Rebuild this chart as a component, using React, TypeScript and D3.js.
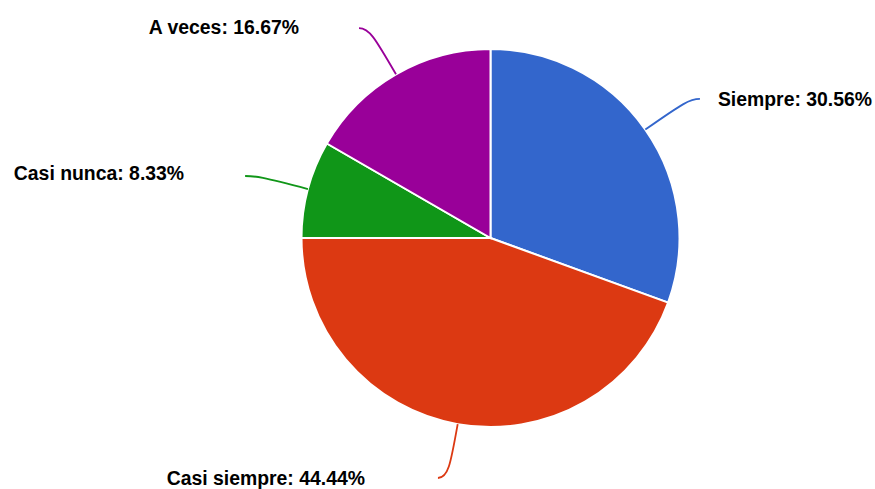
import React from "react";
import * as d3 from "d3";

const categories = ["Siempre", "Casi siempre", "Casi nunca", "A veces"];
const values = [11, 16, 3, 6];
const percentLabels = ["30.56%", "44.44%", "8.33%", "16.67%"];
const colors = ["#3366cc", "#dc3912", "#109618", "#990099"];

// layout (not data)
const W = 875;
const H = 489;
const CX = 490.5;
const CY = 238;
const R = 189;
const LEADER_R = [252, 245, 253, 247];
const endOffset: [number, number][] = [
  [3, 5.5],
  [-10, -1.3],
  [-1, 3.5],
  [-8, 4],
];
const labelGap = [18, 73, 61, 60];
const labelDy = [0, 0, -3, -1];

export default function App() {
  const pie = d3.pie<number>().sort(null).value((d) => d);
  const arcs = pie(values);
  const arc = d3.arc<d3.PieArcDatum<number>>().innerRadius(0).outerRadius(R);
  const polar = (a: number, r: number): [number, number] => [
    CX + r * Math.sin(a),
    CY - r * Math.cos(a),
  ];

  return (
    <svg
      width={W}
      height={H}
      style={{ position: "absolute", left: 0, top: 0, background: "#fff" }}
    >
      <g transform={`translate(${CX},${CY})`}>
        {arcs.map((a, i) => (
          <path
            key={i}
            d={arc(a) || ""}
            fill={colors[i]}
            stroke="#fff"
            strokeWidth={2}
          />
        ))}
      </g>
      {arcs.map((a, i) => {
        const mid = (a.startAngle + a.endAngle) / 2;
        const [sx, sy] = polar(mid, R);
        const [px, py] = polar(mid, LEADER_R[i]);
        const ex = px + endOffset[i][0];
        const ey = py + endOffset[i][1];
        const right = Math.sin(mid) > 0;
        const hdir = right ? 1 : -1;
        const [c1x, c1y] = polar(mid, R + (LEADER_R[i] - R) * 0.75);
        const c2x = ex - hdir * 10;
        const c2y = ey;
        const path = `M${sx},${sy} C${c1x},${c1y} ${c2x},${c2y} ${ex},${ey}`;
        const tx = ex + hdir * labelGap[i];
        const ty = ey + labelDy[i];
        return (
          <g key={i}>
            <path d={path} fill="none" stroke={colors[i]} strokeWidth={1.8} />
            <text
              x={tx}
              y={ty}
              dy="0.35em"
              textAnchor={right ? "start" : "end"}
              fontFamily="Arial, 'Liberation Sans', sans-serif"
              fontWeight="bold"
              fontSize={19.4}
              fill="#000"
            >
              {`${categories[i]}: ${percentLabels[i]}`}
            </text>
          </g>
        );
      })}
    </svg>
  );
}
